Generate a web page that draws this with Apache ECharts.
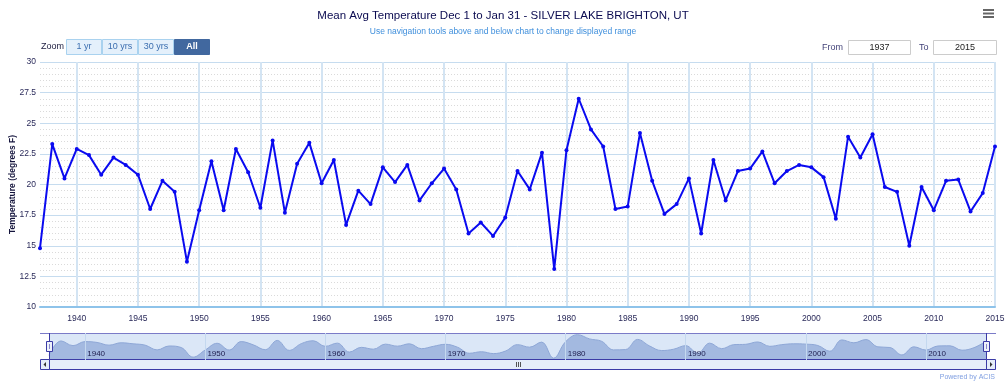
<!DOCTYPE html>
<html>
<head>
<meta charset="utf-8">
<script src="https://cdn.jsdelivr.net/npm/echarts@6/dist/echarts.min.js"></script>
<style>
html,body{margin:0;padding:0;background:#fff;}
#chart{width:1006px;height:384px;}
</style>
</head>
<body>
<div id="chart"></div>
<script>
const years = [];
for (let y = 1937; y <= 2015; y++) years.push(String(y));

const meanTemp = [
  14.8, 23.3, 20.5, 22.9, 22.4, 20.8, 22.2, 21.6, 20.8, 18.0,
  20.3, 19.4, 13.7, 17.9, 21.9, 17.9, 22.9, 21.0, 18.1, 23.6,
  17.7, 21.7, 23.4, 20.1, 22.0, 16.7, 19.5, 18.4, 21.4, 20.2,
  21.6, 18.7, 20.1, 21.3, 19.6, 16.0, 16.9, 15.8, 17.3, 21.1,
  19.6, 22.6, 13.1, 22.8, 27.0, 24.5, 23.1, 18.0, 18.2, 24.2,
  20.3, 17.6, 18.4, 20.5, 16.0, 22.0, 18.7, 21.1, 21.3, 22.7,
  20.1, 21.1, 21.6, 21.4, 20.6, 17.2, 23.9, 22.2, 24.1, 19.8,
  19.4, 15.0, 19.8, 17.9, 20.3, 20.4, 17.8, 19.3, 23.1
];

const yTicks = { min: 10, max: 30, step: 2.5 };
const titleText = 'Mean Avg Temperature Dec 1 to Jan 31 - SILVER LAKE BRIGHTON, UT';
const subtitleText = 'Use navigation tools above and below chart to change displayed range';
const zoomButtons = ['1 yr', '10 yrs', '30 yrs', 'All'];
const fromYear = '1937', toYear = '2015';

const FONT = 'Liberation Sans, Arial, sans-serif';
const scrollBorder = '#3b3ba6';

const btnX = [66, 102, 138, 174, 210];
const buttons = [];
zoomButtons.forEach((b, i) => {
  const active = i === zoomButtons.length - 1;
  buttons.push({
    type: 'rect',
    shape: { x: btnX[i] + 0.5, y: 39.5, width: btnX[i + 1] - btnX[i] - 1, height: 15 },
    style: { fill: active ? '#41689f' : '#e4f0fb', stroke: active ? '#41689f' : '#a9d2ef', lineWidth: 1 }
  });
  buttons.push({
    type: 'text',
    x: (btnX[i] + btnX[i + 1]) / 2, y: 47,
    style: { text: b, fill: active ? '#ffffff' : '#3c6fb0', font: (active ? 'bold ' : '') + '9px ' + FONT, align: 'center', verticalAlign: 'middle' }
  });
});

const graphics = [
  { type: 'text', x: 41, y: 47, style: { text: 'Zoom', fill: '#222244', font: '9px ' + FONT, align: 'left', verticalAlign: 'middle' } },
  ...buttons,
  { type: 'text', x: 843, y: 47.5, style: { text: 'From', fill: '#44447a', font: '9px ' + FONT, align: 'right', verticalAlign: 'middle' } },
  { type: 'rect', shape: { x: 848.5, y: 40.5, width: 62, height: 14 }, style: { fill: '#fff', stroke: '#cccccc', lineWidth: 1 } },
  { type: 'text', x: 879.5, y: 47.5, style: { text: fromYear, fill: '#222', font: '9px ' + FONT, align: 'center', verticalAlign: 'middle' } },
  { type: 'text', x: 919, y: 47.5, style: { text: 'To', fill: '#44447a', font: '9px ' + FONT, align: 'left', verticalAlign: 'middle' } },
  { type: 'rect', shape: { x: 933.5, y: 40.5, width: 63, height: 14 }, style: { fill: '#fff', stroke: '#cccccc', lineWidth: 1 } },
  { type: 'text', x: 965, y: 47.5, style: { text: toYear, fill: '#222', font: '9px ' + FONT, align: 'center', verticalAlign: 'middle' } },
  // menu icon
  { type: 'rect', shape: { x: 983, y: 9, width: 11, height: 2 }, style: { fill: '#666' } },
  { type: 'rect', shape: { x: 983, y: 12.5, width: 11, height: 2 }, style: { fill: '#666' } },
  { type: 'rect', shape: { x: 983, y: 16, width: 11, height: 2 }, style: { fill: '#666' } },
  // navigator outline
  { type: 'line', shape: { x1: 40, y1: 333.5, x2: 996, y2: 333.5 }, style: { stroke: '#7b7bc8', lineWidth: 1 }, z: 10 },
  { type: 'line', shape: { x1: 49.5, y1: 333, x2: 49.5, y2: 360 }, style: { stroke: scrollBorder, lineWidth: 1 }, z: 10 },
  { type: 'line', shape: { x1: 986.5, y1: 333, x2: 986.5, y2: 360 }, style: { stroke: scrollBorder, lineWidth: 1 }, z: 10 },
  // handles
  { type: 'rect', shape: { x: 46.5, y: 341.5, width: 6, height: 10 }, style: { fill: '#eef2fa', stroke: scrollBorder, lineWidth: 1 }, z: 11 },
  { type: 'line', shape: { x1: 49.5, y1: 344, x2: 49.5, y2: 349 }, style: { stroke: '#8888cc', lineWidth: 1 }, z: 11 },
  { type: 'rect', shape: { x: 983.5, y: 341.5, width: 6, height: 10 }, style: { fill: '#eef2fa', stroke: scrollBorder, lineWidth: 1 }, z: 11 },
  { type: 'line', shape: { x1: 986.5, y1: 344, x2: 986.5, y2: 349 }, style: { stroke: '#8888cc', lineWidth: 1 }, z: 11 },
  // scrollbar
  { type: 'rect', shape: { x: 40.5, y: 359.5, width: 955, height: 10 }, style: { fill: '#e6eef9', stroke: scrollBorder, lineWidth: 1 }, z: 10 },
  { type: 'rect', shape: { x: 49.5, y: 359.5, width: 937, height: 10 }, style: { fill: '#e6eef9', stroke: scrollBorder, lineWidth: 1 }, z: 10 },
  { type: 'polygon', shape: { points: [[46, 362], [46, 367], [43.5, 364.5]] }, style: { fill: '#333' }, z: 11 },
  { type: 'polygon', shape: { points: [[990, 362], [990, 367], [992.5, 364.5]] }, style: { fill: '#333' }, z: 11 },
  { type: 'line', shape: { x1: 516.5, y1: 362, x2: 516.5, y2: 367 }, style: { stroke: '#555', lineWidth: 1 }, z: 11 },
  { type: 'line', shape: { x1: 518.5, y1: 362, x2: 518.5, y2: 367 }, style: { stroke: '#555', lineWidth: 1 }, z: 11 },
  { type: 'line', shape: { x1: 520.5, y1: 362, x2: 520.5, y2: 367 }, style: { stroke: '#555', lineWidth: 1 }, z: 11 },
  { type: 'text', x: 995, y: 377, style: { text: 'Powered by ACIS', fill: '#7f9ee0', font: '7px ' + FONT, align: 'right', verticalAlign: 'middle' } }
];

const chart = echarts.init(document.getElementById('chart'), null, { renderer: 'canvas' });
chart.setOption({
  animation: false,
  backgroundColor: '#ffffff',
  title: {
    text: titleText,
    subtext: subtitleText,
    left: 'center',
    top: 5,
    itemGap: 5,
    textStyle: { fontSize: 11.5, fontWeight: 'normal', color: '#0a0a50', fontFamily: FONT },
    subtextStyle: { fontSize: 8.5, color: '#3f8fdc', fontFamily: FONT }
  },
  grid: [
    { left: 40, right: 11, top: 62, height: 245, containLabel: false, outerBoundsMode: 'none' },
    { left: 49, right: 20, top: 333, height: 27, show: true, backgroundColor: '#dbe7f7', borderWidth: 0, containLabel: false, outerBoundsMode: 'none' }
  ],
  xAxis: [
    {
      type: 'category', gridIndex: 0, data: years, boundaryGap: false,
      axisLine: { show: true, lineStyle: { color: '#8ec3ea', width: 2 } },
      axisTick: { show: false },
      axisLabel: { interval: (i, v) => Number(v) % 5 === 0, fontSize: 8.5, color: '#2a2a5a', fontFamily: FONT, margin: 7 },
      splitLine: { show: true, interval: (i, v) => Number(v) % 5 === 0, lineStyle: { color: '#d3e4f3', width: 2 } }
    },
    {
      type: 'category', gridIndex: 1, data: years, boundaryGap: false, z: 10,
      axisLine: { show: false }, axisTick: { show: false },
      axisLabel: { inside: true, interval: (i, v) => Number(v) % 10 === 0, align: 'left', formatter: v => ' ' + v, margin: 2, fontSize: 8, color: '#202050', fontFamily: FONT },
      splitLine: { show: true, interval: (i, v) => Number(v) % 10 === 0, lineStyle: { color: '#c4d8ef', width: 1 } }
    }
  ],
  yAxis: [
    {
      type: 'value', gridIndex: 0, min: yTicks.min, max: yTicks.max, interval: yTicks.step,
      name: 'Temperature (degrees F)', nameLocation: 'middle', nameGap: 23, nameMoveOverlap: false,
      nameTextStyle: { fontSize: 8.5, fontWeight: 'bold', color: '#14143c', fontFamily: FONT },
      axisLine: { show: false }, axisTick: { show: false },
      axisLabel: { fontSize: 8.5, color: '#2a2a5a', fontFamily: FONT, margin: 4 },
      splitLine: { show: true, lineStyle: { color: '#c6dcef', width: 1 } },
      minorTick: { show: false, splitNumber: 5 },
      minorSplitLine: { show: true, lineStyle: { color: '#dadada', type: [1, 2], width: 1 } }
    },
    { type: 'value', gridIndex: 1, min: 12, max: 28, show: false, splitLine: { show: false } }
  ],
  series: [
    {
      type: 'line', xAxisIndex: 0, yAxisIndex: 0, data: meanTemp,
      symbol: 'circle', symbolSize: 4, showSymbol: true,
      lineStyle: { color: '#0a0af0', width: 2 },
      itemStyle: { color: '#0a0af0' },
      z: 5
    },
    {
      type: 'line', xAxisIndex: 1, yAxisIndex: 1, data: meanTemp,
      smooth: 0.4, symbol: 'none',
      lineStyle: { color: '#8ea7d6', width: 1 },
      areaStyle: { color: '#a3b9e0', opacity: 1 }
    }
  ],
  graphic: graphics
});
</script>
</body>
</html>
